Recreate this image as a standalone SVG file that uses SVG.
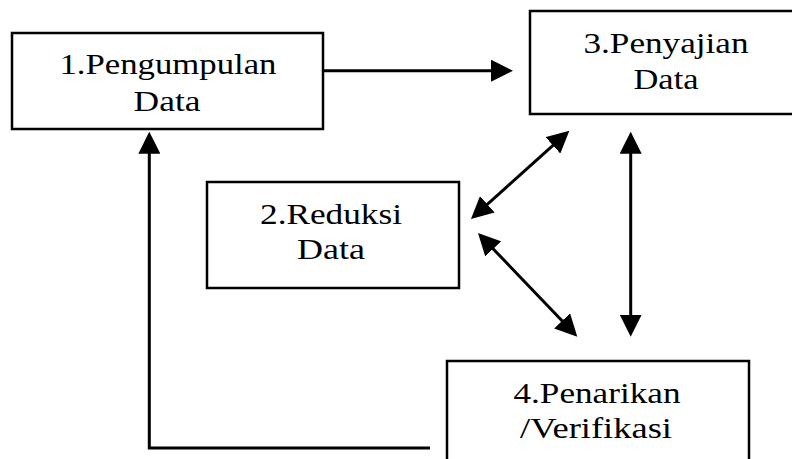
<svg xmlns="http://www.w3.org/2000/svg" width="792" height="459" viewBox="0 0 792 459">
  <style>
    .box { fill: #ffffff; stroke: #000000; stroke-width: 2.5; }
    text { font-family: "Liberation Serif", Tinos, "Times New Roman", Times, "DejaVu Serif", serif; font-size: 29px; fill: #000000; text-anchor: middle; }
    .link { fill: none; stroke: #000000; stroke-width: 3; }
  </style>
  <defs>
    <marker id="head" viewBox="0 0 22 22" refX="12" refY="11" markerWidth="22" markerHeight="22" markerUnits="userSpaceOnUse" orient="auto-start-reverse">
      <path d="M0,0 L22,11 L0,22 Z" fill="#000000"/>
    </marker>
  </defs>
  <rect width="792" height="459" fill="#ffffff"/>

  <g id="connectors">
    <!-- 1 -> 3 -->
    <line class="link" x1="323" y1="70.7" x2="503" y2="70.7" marker-end="url(#head)"/>
    <!-- 2 <-> 3 -->
    <line class="link" x1="478.4" y1="212.3" x2="561.9" y2="137.4" marker-start="url(#head)" marker-end="url(#head)"/>
    <!-- 2 <-> 4 -->
    <line class="link" x1="484.9" y1="240.2" x2="570.4" y2="329.5" marker-start="url(#head)" marker-end="url(#head)"/>
    <!-- 3 <-> 4 -->
    <line class="link" x1="630.7" y1="141.7" x2="630.7" y2="326.7" marker-start="url(#head)" marker-end="url(#head)"/>
    <!-- 4 -> 1 feedback loop -->
    <polyline class="link" points="430,448 149.3,448 149.3,141.7" marker-end="url(#head)"/>
  </g>

  <g id="node-pengumpulan">
    <rect class="box" x="12" y="33" width="311" height="96"/>
    <text x="168" y="74" textLength="217" lengthAdjust="spacingAndGlyphs">1.Pengumpulan</text>
    <text x="167" y="110.5" textLength="67" lengthAdjust="spacingAndGlyphs">Data</text>
  </g>

  <g id="node-penyajian">
    <rect class="box" x="530" y="11" width="280" height="103"/>
    <text x="666" y="52.5" textLength="165" lengthAdjust="spacingAndGlyphs">3.Penyajian</text>
    <text x="666" y="88.5" textLength="65" lengthAdjust="spacingAndGlyphs">Data</text>
  </g>

  <g id="node-reduksi">
    <rect class="box" x="207" y="182" width="252" height="106"/>
    <text x="331" y="224" textLength="142" lengthAdjust="spacingAndGlyphs">2.Reduksi</text>
    <text x="331" y="259.3" textLength="68" lengthAdjust="spacingAndGlyphs">Data</text>
  </g>

  <g id="node-penarikan">
    <rect class="box" x="447" y="361" width="302" height="120"/>
    <text x="597" y="403" textLength="167" lengthAdjust="spacingAndGlyphs">4.Penarikan</text>
    <text x="596" y="438" textLength="152" lengthAdjust="spacingAndGlyphs">/Verifikasi</text>
  </g>
</svg>
